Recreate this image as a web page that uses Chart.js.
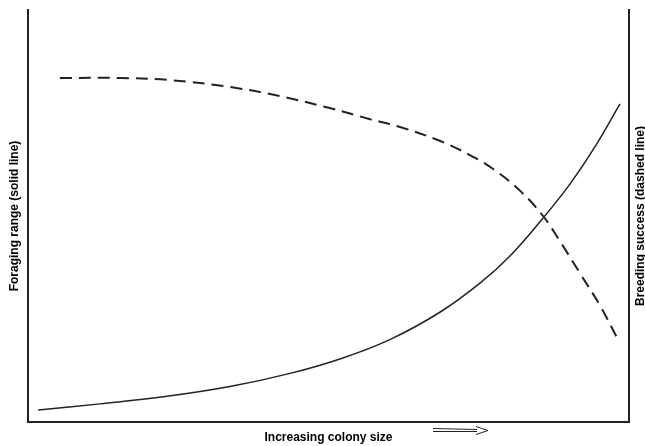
<!DOCTYPE html>
<html>
<head>
<meta charset="utf-8">
<script src="https://cdn.jsdelivr.net/npm/chart.js@4/dist/chart.umd.min.js"></script>
<style>
  html, body { margin: 0; padding: 0; background: #fff; }
  #wrap { width: 645px; height: 446px; }
</style>
</head>
<body>
<div id="wrap"><canvas id="chart"></canvas></div>
<script>
// colony size (relative, 0-100) and the two responses
const xSolid = [1.7, 12.0, 22.5, 33.6, 43.6, 51.9, 60.2, 68.6, 75.2, 80.2, 85.7, 90.2, 94.3, 98.5];
const foraging = [2.9, 4.4, 6.1, 8.6, 11.8, 15.3, 20.0, 26.7, 33.7, 40.3, 49.5, 57.8, 66.7, 77.2];

const xDashed = [5.3, 15.3, 23.6, 33.6, 41.9, 50.2, 56.9, 61.9, 68.6, 73.5, 77.4, 81.9, 85.7, 88.5, 91.8, 95.2, 98.2];
const breeding = [83.5, 83.5, 83.0, 81.3, 79.1, 76.2, 73.5, 71.6, 68.2, 64.8, 61.4, 56.1, 50.0, 43.9, 36.2, 28.2, 19.9];

const xTitle = "Increasing colony size";
const leftTitle = "Foraging range (solid line)";
const rightTitle = "Breeding success (dashed line)";

const ink = "#222";
const titleFont = { family: "'Liberation Sans', Arial, sans-serif", size: 12, weight: "bold" };

function points(xs, ys) {
    return xs.map((x, i) => ({ x: x, y: ys[i] }));
}

// right-hand title reads bottom-to-top, plus the little arrow under the x axis
const extras = {
    id: "extras",
    afterDraw(chart) {
        const ctx = chart.ctx;
        const area = chart.chartArea;
        ctx.save();
        ctx.fillStyle = "#000";
        ctx.font = "bold 12px 'Liberation Sans', Arial, sans-serif";
        ctx.textAlign = "center";
        ctx.textBaseline = "middle";
        ctx.translate(641, (area.top + area.bottom) / 2);
        ctx.rotate(-Math.PI / 2);
        ctx.fillText(rightTitle, 0, 0);
        ctx.restore();

        ctx.save();
        ctx.strokeStyle = ink;
        ctx.lineWidth = 1;
        ctx.beginPath();
        ctx.moveTo(433, 428.5);
        ctx.lineTo(477, 429.5);
        ctx.moveTo(433, 431.5);
        ctx.lineTo(477, 431.5);
        ctx.moveTo(476, 426.5);
        ctx.lineTo(488, 430.5);
        ctx.lineTo(476, 434.5);
        ctx.stroke();
        ctx.restore();
    }
};

const hiddenGrid = { display: false, drawTicks: false };

new Chart(document.getElementById("chart"), {
    type: "line",
    data: {
        datasets: [{
            label: "Foraging range",
            data: points(xSolid, foraging),
            borderColor: ink,
            borderWidth: 1.5,
            pointRadius: 0,
            tension: 0.4,
            yAxisID: "y"
        }, {
            label: "Breeding success",
            data: points(xDashed, breeding),
            borderColor: ink,
            borderWidth: 2,
            borderDash: [12, 7],
            pointRadius: 0,
            tension: 0.4,
            yAxisID: "y1"
        }]
    },
    options: {
        responsive: true,
        maintainAspectRatio: false,
        animation: false,
        layout: { padding: { top: 10, right: 16, left: 0, bottom: 0 } },
        plugins: {
            legend: { display: false },
            tooltip: { enabled: false }
        },
        scales: {
            x: {
                type: "linear",
                min: 0,
                max: 100,
                ticks: { display: false },
                grid: hiddenGrid,
                border: { display: true, color: ink, width: 2 },
                title: {
                    display: true,
                    text: xTitle,
                    color: "#000",
                    font: titleFont,
                    padding: { top: 8, bottom: 1.6 }
                }
            },
            y: {
                position: "left",
                min: 0,
                max: 100,
                ticks: { display: false },
                grid: hiddenGrid,
                border: { display: true, color: ink, width: 2 },
                title: {
                    display: true,
                    text: leftTitle,
                    color: "#000",
                    font: titleFont,
                    padding: { top: 7, bottom: 6.6 }
                }
            },
            y1: {
                position: "right",
                min: 0,
                max: 100,
                ticks: { display: false },
                grid: hiddenGrid,
                border: { display: true, color: ink, width: 2 }
            }
        }
    },
    plugins: [extras]
});
</script>
</body>
</html>
